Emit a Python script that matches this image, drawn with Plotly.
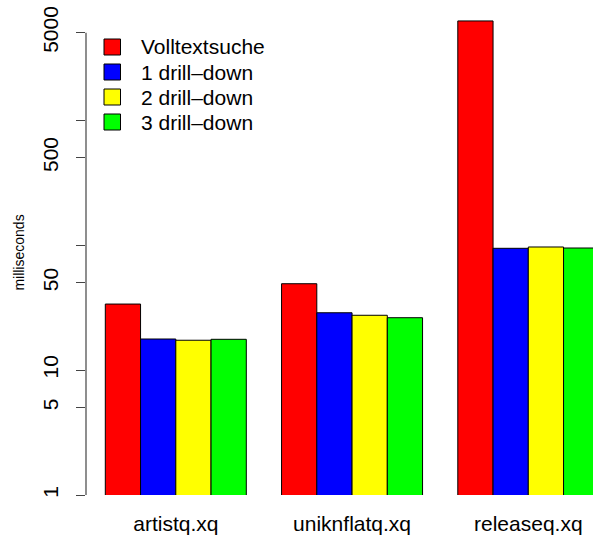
import plotly.graph_objects as go

categories = ["artistq.xq", "uniknflatq.xq", "releaseq.xq"]
series_names = ["Volltextsuche", "1 drill\u2013down", "2 drill\u2013down", "3 drill\u2013down"]
volltextsuche = [33.7, 49.0, 6200]
drill_1 = [17.7, 28.7, 94.1]
drill_2 = [17.3, 27.4, 96.4]
drill_3 = [17.6, 26.2, 94.6]
series_values = [volltextsuche, drill_1, drill_2, drill_3]
colors = ["#FF0000", "#0000FF", "#FFFF00", "#00FF00"]

ytick_vals = [1, 5, 10, 50, 100, 500, 1000, 5000]
ytick_text = ["1", "5", "10", "50", "", "500", "", "5000"]

W, H = 593, 538
ML, MR, MT, MB = 86, 0, 10, 43
unit_px = 35.25          # one bar width in pixels
first_bar_px = 105.3     # left edge of first bar
decade_px = 125.0
PW, PH = W - ML - MR, H - MT - MB

n_series = len(series_values)
group_step = n_series + 1  # one bar width of space between groups

x_left = 1 + (ML - first_bar_px) / unit_px
x_right = x_left + PW / unit_px
y_top = PH / decade_px

FONT = "Liberation Sans, Arial, Helvetica, sans-serif"


def px_x(p):
    return (p - ML) / PW


def px_y(p):
    return 1 - (p - MT) / PH


fig = go.Figure()
for s, (name, vals, col) in enumerate(zip(series_names, series_values, colors)):
    xs = [1 + group_step * g + s + 0.5 for g in range(len(categories))]
    fig.add_trace(go.Bar(
        x=xs, y=vals, name=name, width=1.0, showlegend=False,
        marker=dict(color=col, line=dict(color="black", width=1)),
    ))

group_centers = [1 + group_step * g + n_series / 2 for g in range(len(categories))]

fig.update_layout(
    width=W, height=H,
    margin=dict(l=ML, r=MR, t=MT, b=MB, autoexpand=False),
    plot_bgcolor="white", paper_bgcolor="white",
    font=dict(family=FONT, size=21, color="black"),
    barmode="overlay",
    showlegend=False,
    xaxis=dict(
        range=[x_left, x_right], showgrid=False, zeroline=False, showline=False,
        tickvals=group_centers, ticktext=categories, ticks="",
        tickfont=dict(size=21), ticklabelstandoff=14,
    ),
    yaxis=dict(
        type="log", range=[0, y_top], showgrid=False, zeroline=False, showline=False,
        tickvals=ytick_vals, ticktext=ytick_text, tickangle=-90,
        ticks="outside", ticklen=9, tickwidth=1.2, tickcolor="#444",
        tickfont=dict(size=21), ticklabelstandoff=10,
        title=dict(text="milliseconds", font=dict(size=14), standoff=10),
    ),
)

fig.add_shape(type="line", xref="paper", yref="y", x0=0, x1=0, y0=1, y1=5000,
              line=dict(color="#444", width=1.2))

# legend (top-left, R style)
leg_top, leg_step = 47.0, 25.0
for i, (name, col) in enumerate(zip(series_names, colors)):
    cy = leg_top + i * leg_step
    fig.add_shape(type="rect", xref="paper", yref="paper",
                  x0=px_x(104), x1=px_x(120.5), y0=px_y(cy + 8), y1=px_y(cy - 8),
                  fillcolor=col, line=dict(color="black", width=1))
    fig.add_annotation(xref="paper", yref="paper", x=px_x(139), y=px_y(cy),
                       text=name, showarrow=False, xanchor="left", yanchor="middle",
                       font=dict(size=21, family=FONT, color="black"))

fig.write_html("out.html")
